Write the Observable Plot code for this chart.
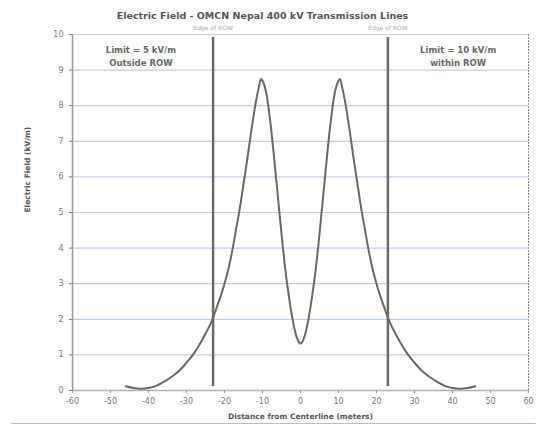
<!DOCTYPE html>
<html>
<head>
<meta charset="utf-8">
<script src="https://cdn.jsdelivr.net/npm/d3@7"></script>
<script src="https://cdn.jsdelivr.net/npm/@observablehq/plot@0.6"></script>
<style>
  html, body { margin: 0; padding: 0; background: #fff; }
  #chart svg { display: block; }
</style>
</head>
<body>
<div id="chart"></div>
<script>
const title = "Electric Field - OMCN Nepal 400 kV Transmission Lines";
const xLabel = "Distance from Centerline (meters)";
const yLabel = "Electric Field (kV/m)";

// Distance from centerline (m) and field (kV/m)
const distance = [-46, -44, -42, -40, -38, -36, -34, -32, -30, -28, -26, -25, -24, -23, -22, -21, -20, -19, -18, -17, -16, -15, -14, -13, -12, -11, -10.4, -10, -9, -8, -7, -6, -5, -4, -3, -2, -1, 0,
                  1, 2, 3, 4, 5, 6, 7, 8, 9, 10, 10.4, 11, 12, 13, 14, 15, 16, 17, 18, 19, 20, 21, 22, 23, 24, 25, 26, 28, 30, 32, 34, 36, 38, 40, 42, 44, 46];
const field = [0.12, 0.07, 0.05, 0.07, 0.13, 0.24, 0.38, 0.55, 0.78, 1.05, 1.4, 1.6, 1.8, 2.05, 2.35, 2.65, 3.0, 3.4, 3.9, 4.5, 5.1, 5.8, 6.5, 7.25, 7.95, 8.5, 8.75, 8.7, 8.35, 7.6, 6.6, 5.5, 4.4, 3.4, 2.6, 1.95, 1.5, 1.32,
               1.5, 1.95, 2.6, 3.4, 4.4, 5.5, 6.6, 7.6, 8.35, 8.7, 8.75, 8.5, 7.95, 7.25, 6.5, 5.8, 5.1, 4.5, 3.9, 3.4, 3.0, 2.65, 2.35, 2.05, 1.8, 1.6, 1.4, 1.05, 0.78, 0.55, 0.38, 0.24, 0.13, 0.07, 0.05, 0.07, 0.12];

const rowEdges = [-23, 23];
const rowEdgeLabels = ["Edge of ROW", "Edge of ROW"];
const limitX = [-42, 41.5];
const limitLine1 = ["Limit = 5 kV/m", "Limit = 10 kV/m"];
const limitLine2 = ["Outside ROW", "within ROW"];
const xTicks = [-60, -50, -40, -30, -20, -10, 0, 10, 20, 30, 40, 50, 60];
const yTicks = [0, 1, 2, 3, 4, 5, 6, 7, 8, 9, 10];

const curve = distance.map((d, i) => ({x: d, y: field[i]}));
const edges = rowEdges.map((x, i) => ({x, label: rowEdgeLabels[i]}));
const limits = limitX.map((x, i) => ({x, a: limitLine1[i], b: limitLine2[i]}));

const chart = Plot.plot({
  width: 537,
  height: 426,
  marginTop: 34,
  marginLeft: 72,
  marginRight: 9,
  marginBottom: 36,
  style: {fontFamily: "DejaVu Sans, sans-serif", background: "#fff"},
  x: {domain: [-60, 60], ticks: xTicks, label: null},
  y: {domain: [0, 10], ticks: yTicks, label: null},
  marks: [
    Plot.ruleY(yTicks.filter(d => d > 0), {stroke: "#c3caef", strokeWidth: 1.2}),
    Plot.ruleX([60], {stroke: "#888", strokeWidth: 1, strokeDasharray: "2,1"}),
    Plot.ruleY([0], {stroke: "#b0b0b0", strokeWidth: 1.5}),
    Plot.ruleX([-60], {stroke: "#999", strokeWidth: 1.5}),
    Plot.axisX({ticks: xTicks, tickFormat: d => String(d), tickSize: 3, tickPadding: 5, fontSize: 8, fill: "#777", stroke: "#999"}),
    Plot.axisY({ticks: yTicks, tickSize: 3, tickPadding: 6, fontSize: 8, fill: "#777", stroke: "#777"}),
    Plot.ruleX(edges, {x: "x", y1: 0, y2: 10, stroke: "#6a6a6a", strokeWidth: 2.5, insetBottom: -3, insetTop: -4}),
    Plot.text(edges, {x: "x", frameAnchor: "top", dy: -9, text: "label", fontSize: 6, fill: "#aaa"}),
    Plot.line(curve, {x: "x", y: "y", stroke: "#686868", strokeWidth: 2, curve: "monotone-x"}),
    Plot.text(limits, {x: "x", frameAnchor: "top", dy: 12, text: "a", fontSize: 8.5, fontWeight: "bold", fill: "#666"}),
    Plot.text(limits, {x: "x", frameAnchor: "top", dy: 25, text: "b", fontSize: 8.5, fontWeight: "bold", fill: "#666"}),
    Plot.text([title], {frameAnchor: "top", dx: -38, dy: -22, text: d => d, fontSize: 9.5, fontWeight: "bold", fill: "#555"}),
    Plot.text([xLabel], {frameAnchor: "bottom", dy: 28, text: d => d, fontSize: 7.5, fontWeight: "bold", fill: "#555"}),
    Plot.text([yLabel], {frameAnchor: "left", dx: -45, rotate: -90, text: d => d, fontSize: 7.5, fontWeight: "bold", fill: "#555"}),
    Plot.ruleY([0], {dy: 33, x1: -76, x2: 62, stroke: "#b8bcc8", strokeWidth: 1, clip: false})
  ]
});
document.getElementById("chart").appendChild(chart);
</script>
</body>
</html>
